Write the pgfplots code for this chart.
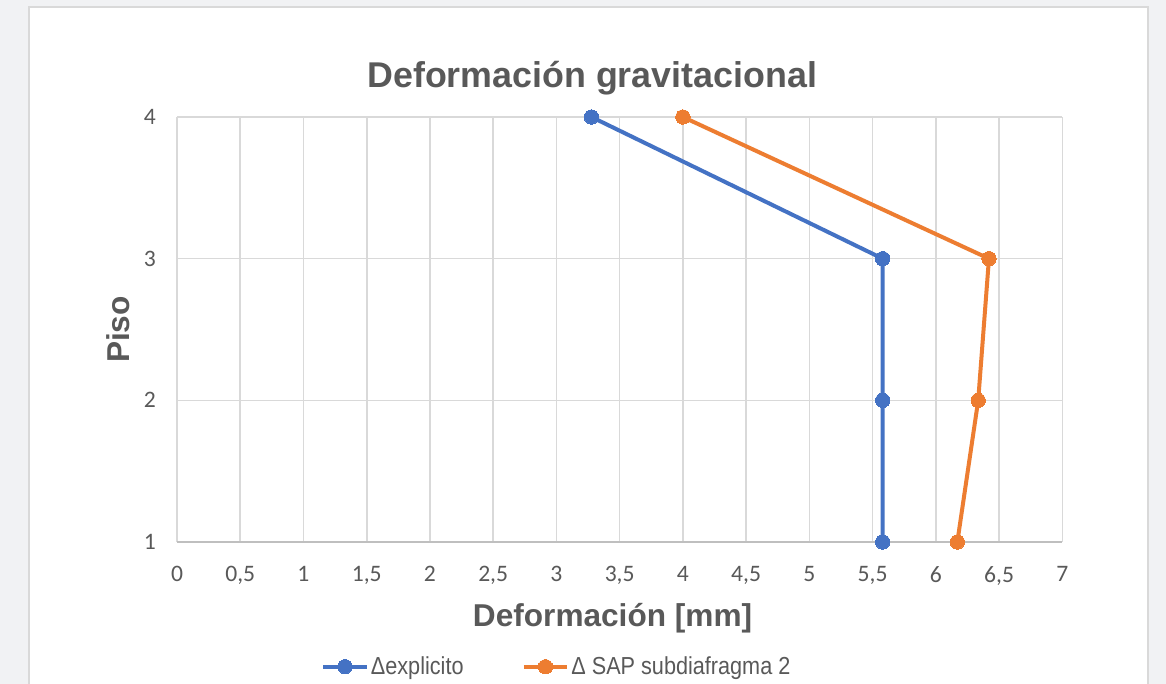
\documentclass[border=0pt]{standalone}
\usepackage{fontspec}
\usepackage{pgfplots}
\pgfplotsset{compat=1.18}
\setmainfont{Liberation Sans}
\newfontfamily\carlito{Carlito}
\newfontfamily\legfont[FakeStretch=0.88]{Liberation Sans}
\definecolor{bgc}{RGB}{241,242,244}
\definecolor{frm}{RGB}{217,217,217}
\definecolor{grd}{RGB}{217,217,217}
\definecolor{axl}{RGB}{191,191,191}
\definecolor{txt}{RGB}{89,89,89}
\definecolor{cblue}{RGB}{68,114,196}
\definecolor{corange}{RGB}{237,125,49}
\begin{document}
\begin{tikzpicture}
\useasboundingbox (0,0) rectangle (583pt,342pt);
\clip (0,0) rectangle (583pt,342pt);
\fill[bgc] (0,0) rectangle (583pt,342pt);
\draw[frm, line width=1pt, fill=white] (14.5pt,-10pt) rectangle (574pt,338.5pt);
\begin{axis}[
  at={(88.5pt,71pt)}, anchor=south west,
  scale only axis, width=442.65pt, height=212.5pt,
  xmin=0, xmax=7, ymin=1, ymax=4,
  xtick={0,0.5,...,7}, ytick={1,2,3,4},
  major tick length=0pt,
  grid=major, grid style={grd, line width=0.8pt},
  axis x line*=bottom, axis y line*=left,
  x axis line style={draw=axl, line width=0.9pt, -},
  y axis line style={draw=none, -},
  /pgf/number format/use comma,
  /pgf/number format/assume math mode=true,
  tick label style={font=\carlito\fontsize{11.8}{13}\selectfont, text=txt},
  xticklabel style={yshift=-8.5pt},
  yticklabel style={xshift=-7pt},
  title={Deformación gravitacional},
  title style={font=\bfseries\fontsize{17.9}{20}\selectfont, text=txt, at={(0.469,1.064)}, anchor=center},
  xlabel={Deformación [mm]},
  xlabel style={font=\bfseries\fontsize{15.8}{18}\selectfont, text=txt, at={(0.492,-0.1788)}, anchor=center},
  ylabel={Piso},
  ylabel style={font=\bfseries\fontsize{15.8}{18}\selectfont, text=txt, at={(-0.0667,0.5)}, anchor=center},
  legend columns=2,
  legend style={at={(0.4294,-0.2935)}, anchor=center, draw=none, fill=none,
    font=\legfont\fontsize{12.3}{14}\selectfont, text=txt,
    /tikz/every even column/.append style={column sep=28pt},
    nodes={inner sep=1.2pt}},
  legend image code/.code={\draw[mark repeat=2,mark phase=2] plot coordinates {(0pt,0pt) (10.75pt,0pt) (21.5pt,0pt)};},
]
\addplot[cblue, line width=2pt, mark=*, mark size=3.6pt, mark options={fill=cblue, draw=cblue, line width=0pt}]
  coordinates {(3.277,4) (5.58,3) (5.58,2) (5.58,1)};
\addlegendentry{Δexplicito}
\addplot[corange, line width=2pt, mark=*, mark size=3.6pt, mark options={fill=corange, draw=corange, line width=0pt}]
  coordinates {(4.0,4) (6.42,3) (6.335,2) (6.17,1)};
\addlegendentry{Δ SAP subdiafragma 2}
\end{axis}
\end{tikzpicture}
\end{document}
